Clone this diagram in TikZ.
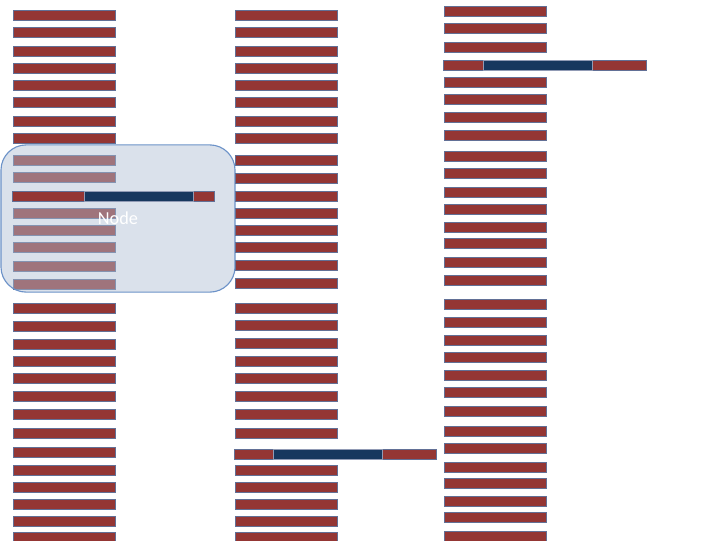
\documentclass[tikz,border=0pt]{standalone}
\usepackage{fontspec}
\setmainfont{Carlito}
\usetikzlibrary{positioning,shadows}

\definecolor{barred}{RGB}{148,54,52}
\definecolor{baredge}{RGB}{98,112,150}
\definecolor{barblue}{RGB}{23,55,94}
\definecolor{boxfill}{RGB}{174,190,211}
\definecolor{boxedge}{RGB}{108,146,200}

\tikzset{
  bar/.style={fill=barred,draw=baredge,line width=.45pt,
    drop shadow={shadow xshift=.3pt,shadow yshift=-.9pt,opacity=.2}},
  bluebar/.style={fill=barblue,draw=baredge!70!white,line width=.5pt},
  nodebox/.style={draw=boxedge,line width=.8pt,fill=boxfill,fill opacity=.46,
    rounded corners=18pt,text opacity=1,text=white,font=\fontsize{13}{15}\selectfont,
    minimum width=5.85cm,minimum height=3.68cm,inner sep=0pt}
}

\begin{document}
\begin{tikzpicture}[x=0.025cm,y=-0.025cm]
\useasboundingbox (0,0) rectangle (720,540);
% first column
\foreach \y in {15,32,51,68,85,102,121,138,160,177,213,230,247,266,284,308,326,344,361,378,396,414,433,452,470,487,504,521,537}
  \draw[bar] (13,\y-5) rectangle (115,\y+5);
% third column
\foreach \y in {11,28,47,82,99,117,135,156,173,192,209,227,243,262,280,304,322,340,357,375,392,411,431,448,467,483,501,517,536}
  \draw[bar] (444,\y-5) rectangle (546,\y+5);
\draw[bar] (443,60) rectangle (646,70);
\draw[bluebar] (483,60) rectangle (592,70);
% the box
\node[nodebox] (box) at (118,218.5) {Node};
\draw[bar] (12,191) rectangle (214,201);
\draw[bluebar] (84,191) rectangle (193,201);
% second column
\foreach \y in {15,32,51,68,85,102,121,138,160,178,196,213,230,247,265,283,308,325,343,361,378,396,414,433,470,487,504,521,537}
  \draw[bar] (235,\y-5) rectangle (337,\y+5);
\draw[bar] (234,449) rectangle (436,459);
\draw[bluebar] (273,449) rectangle (382,459);
\end{tikzpicture}
\end{document}
